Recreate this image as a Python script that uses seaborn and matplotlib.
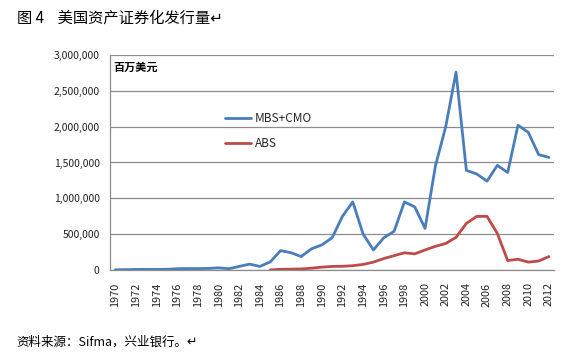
import matplotlib
matplotlib.use('Agg')
import matplotlib.pyplot as plt
import matplotlib.ticker as mticker
from matplotlib.lines import Line2D
import numpy as np
import pandas as pd
import seaborn as sns

years = list(range(1970, 2013))
mbs_cmo = [3000, 5000, 8000, 9000, 8000, 10000, 18000, 20000, 20000, 22000,
           30000, 18000, 50000, 82000, 50000, 112000, 270000, 242000, 188000, 295000,
           350000, 450000, 750000, 950000, 500000, 280000, 450000, 540000, 950000, 880000,
           580000, 1450000, 2000000, 2760000, 1390000, 1340000, 1240000, 1460000, 1360000, 2020000,
           1920000, 1610000, 1570000]
abs_vals = [np.nan] * 15 + [1000, 10000, 12000, 15000, 25000,
            40000, 50000, 52000, 60000, 78000, 110000, 160000, 200000, 240000, 225000,
            280000, 330000, 370000, 456000, 650000, 748000, 748000, 510000, 132000, 150000,
            110000, 125000, 188000]
series_names = ['MBS+CMO', 'ABS']

df = pd.DataFrame({'year': years, 'MBS+CMO': mbs_cmo, 'ABS': abs_vals})
long = df.melt(id_vars='year', value_vars=series_names, var_name='series', value_name='value')
long['pos'] = long['year'] - years[0]

sns.set_style('white')
plt.rcParams['font.family'] = ['Noto Sans CJK SC', 'DejaVu Sans']

fig = plt.figure(figsize=(5.62, 3.57), dpi=100)
ax = fig.add_axes([0.196, 0.2437, 0.79, 0.6023])

palette = {'MBS+CMO': '#4A7EBB', 'ABS': '#BE4B48'}
sns.lineplot(data=long, x='pos', y='value', hue='series', palette=palette,
             linewidth=2.0, ax=ax, legend=False)

ax.set_xlim(-0.5, len(years) - 0.5)
ax.set_ylim(0, 3000000)
ax.yaxis.set_major_locator(mticker.MultipleLocator(500000))
ax.yaxis.set_major_formatter(mticker.FuncFormatter(lambda v, p: f'{int(v):,}'))
ax.grid(axis='y', color='#8c8c8c', linewidth=0.9)
ax.set_axisbelow(True)

ax.set_xticks(range(0, len(years), 2))
ax.set_xticklabels([str(y) for y in years[::2]], rotation=90, fontsize=7.8, color='#222222')
ax.set_xticks(np.arange(-0.5, len(years), 1), minor=True)
ax.tick_params(axis='x', which='major', length=0, pad=9)
ax.tick_params(axis='x', which='minor', length=5, color='#8c8c8c', width=0.8, direction='out')
ax.tick_params(axis='y', which='major', length=4, color='#8c8c8c', width=0.8, direction='out',
               labelsize=7.5, labelcolor='#222222')
ax.set_xlabel('')
ax.set_ylabel('')

for s in ['top', 'right']:
    ax.spines[s].set_visible(False)
for s in ['left', 'bottom']:
    ax.spines[s].set_color('#8c8c8c')
    ax.spines[s].set_linewidth(0.9)

ax.text(0.008, 0.975, '百万美元', transform=ax.transAxes, fontsize=8, fontweight='bold',
        va='top', ha='left', color='#000000')

handles = [Line2D([0], [0], color=palette[n], linewidth=2.0) for n in series_names]
leg = ax.legend(handles, series_names, loc='upper left', bbox_to_anchor=(0.235, 0.785),
                frameon=False, fontsize=8.5, handlelength=2.2, handletextpad=0.3,
                labelspacing=1.05)

fig.text(0.03, 0.948, '图 4    美国资产证券化发行量↵', fontsize=11, va='center', ha='left',
         color='#000000')
fig.text(0.03, 0.042, '资料来源：Sifma，兴业银行。↵', fontsize=9, va='center', ha='left',
         color='#000000')

fig.savefig('out.png', dpi=100, facecolor='white')
